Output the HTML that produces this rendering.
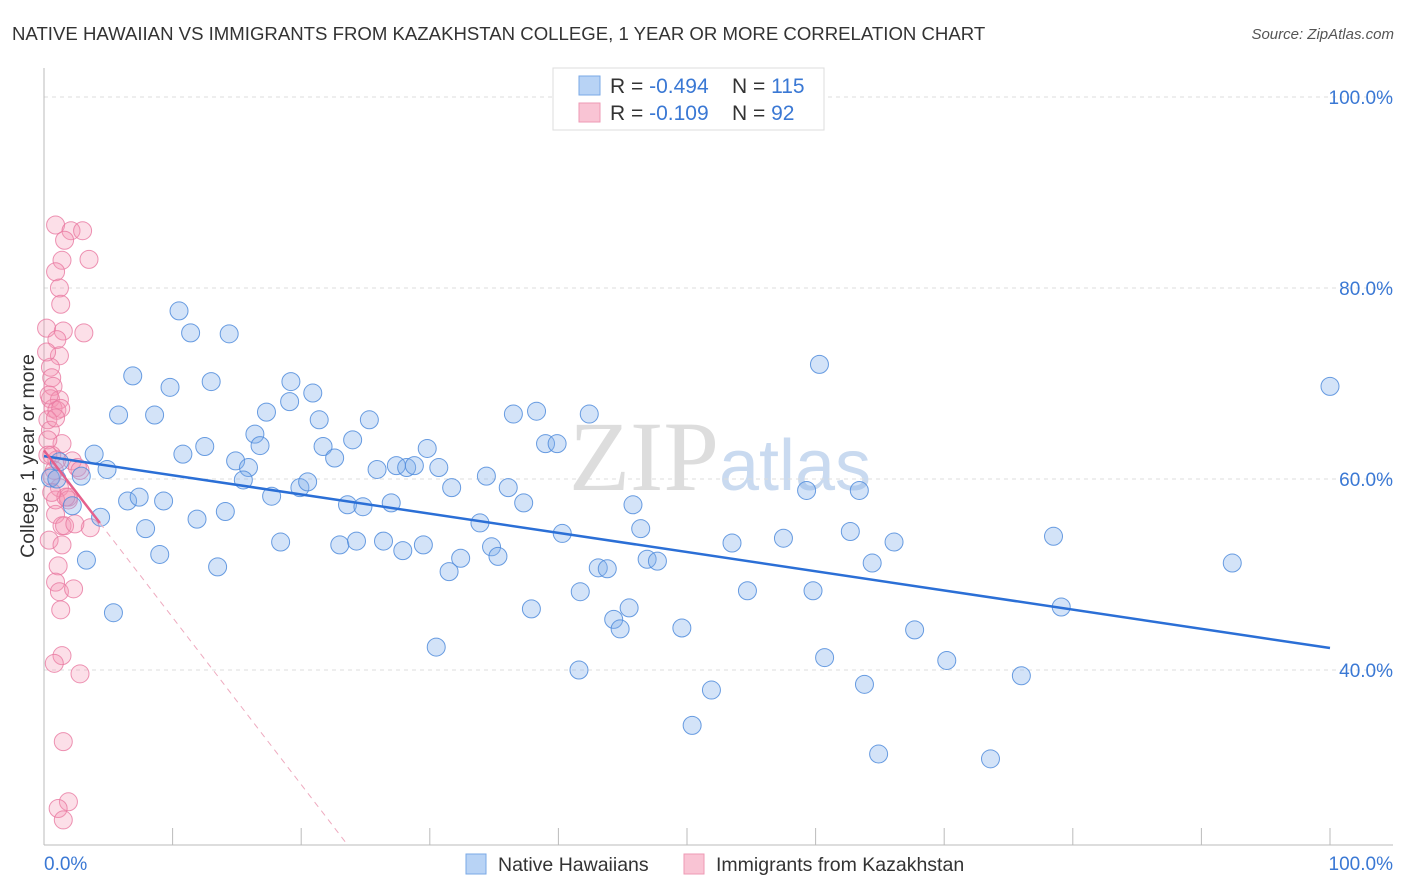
<!DOCTYPE html>
<html><head><meta charset="utf-8">
<style>
body{margin:0;background:#fff;font-family:"Liberation Sans",sans-serif;}
svg{display:block}
</style></head>
<body>
<svg id="chart" width="1406" height="892" xmlns="http://www.w3.org/2000/svg">
<text x="12" y="40" font-size="18.6" fill="#333">NATIVE HAWAIIAN VS IMMIGRANTS FROM KAZAKHSTAN COLLEGE, 1 YEAR OR MORE CORRELATION CHART</text>
<text x="1394" y="39" font-size="15" fill="#555" text-anchor="end" font-style="italic">Source: ZipAtlas.com</text>
<text x="720" y="490" font-size="100" fill="#ddd" text-anchor="middle" font-family="Liberation Serif,serif">ZIP<tspan fill="#c9daf0" font-family="Liberation Sans,sans-serif" font-size="72">atlas</tspan></text>
<g id="grid"></g>
<g id="axes"></g>
<g id="pink"></g>
<g id="blue"></g>
<g id="trends"></g>
<text transform="translate(34,456) rotate(-90)" font-size="19.5" fill="#333" text-anchor="middle">College, 1 year or more</text>
<g>
<rect x="553" y="68" width="271" height="62" fill="#fff" stroke="#ddd"/>
<rect x="579" y="76" width="21" height="19" fill="#b8d3f5" stroke="#7aa8e6"/>
<rect x="579" y="103" width="21" height="19" fill="#f9c4d4" stroke="#ee9ab4"/>
<text x="610" y="93" font-size="21" fill="#333">R = <tspan fill="#3a78d4">-0.494</tspan><tspan x="732">N = </tspan><tspan fill="#3a78d4">115</tspan></text>
<text x="610" y="120" font-size="21" fill="#333">R = <tspan fill="#3a78d4"> -0.109</tspan><tspan x="732">N = </tspan><tspan fill="#3a78d4"> 92</tspan></text>
</g>
<g>
<rect x="466" y="854" width="20" height="20" fill="#b8d3f5" stroke="#7aa8e6"/>
<text x="498" y="871" font-size="19.5" fill="#333">Native Hawaiians</text>
<rect x="684" y="854" width="20" height="20" fill="#f9c4d4" stroke="#ee9ab4"/>
<text x="716" y="871" font-size="19.5" fill="#333">Immigrants from Kazakhstan</text>
</g>
</svg>
<script>
const blueX=[10.5,11.4,14.4,6.9,9.8,13.0,5.8,8.6,19.2,20.9,19.1,17.3,25.3,3.9,4.9,10.8,12.5,14.9,15.9,16.4,16.8,15.5,17.7,19.9,20.5,21.4,21.7,22.6,24.0,25.9,27.4,28.2,28.8,29.8,30.7,31.7,34.4,36.1,36.5,38.3,39.0,39.9,42.4,37.3,23.6,24.8,27.0,6.5,7.4,9.3,4.4,7.9,11.9,14.1,9.0,3.3,13.5,5.4,18.4,23.0,24.3,26.4,27.9,29.5,31.5,32.4,33.9,34.8,35.3,40.3,45.8,46.4,46.9,47.7,53.5,57.5,59.3,60.3,62.7,63.4,64.4,66.1,78.5,92.4,100.0,43.1,43.8,41.7,37.9,44.3,44.8,45.5,49.6,54.7,59.8,79.1,67.7,30.5,41.6,60.7,70.2,76.0,51.9,63.8,50.4,64.9,73.6,0.5,1.0,2.9,2.2,1.2];
const blueY=[77.6,75.3,75.2,70.8,69.6,70.2,66.7,66.7,70.2,69.0,68.1,67.0,66.2,62.6,61.0,62.6,63.4,61.9,61.2,64.7,63.5,59.9,58.2,59.1,59.7,66.2,63.4,62.2,64.1,61.0,61.4,61.2,61.4,63.2,61.2,59.1,60.3,59.1,66.8,67.1,63.7,63.7,66.8,57.5,57.3,57.1,57.5,57.7,58.1,57.7,56.0,54.8,55.8,56.6,52.1,51.5,50.8,46.0,53.4,53.1,53.5,53.5,52.5,53.1,50.3,51.7,55.4,52.9,51.9,54.3,57.3,54.8,51.6,51.4,53.3,53.8,58.8,72.0,54.5,58.8,51.2,53.4,54.0,51.2,69.7,50.7,50.6,48.2,46.4,45.3,44.3,46.5,44.4,48.3,48.3,46.6,44.2,42.4,40.0,41.3,41.0,39.4,37.9,38.5,34.2,31.2,30.7,60.1,60.0,60.3,57.2,61.8];
const pinkX=[0.9,2.1,3.0,3.5,1.6,1.4,0.9,1.2,1.3,0.2,1.5,3.1,1.0,1.2,0.5,0.6,0.7,0.5,1.2,0.7,1.0,1.3,0.3,0.5,1.4,0.3,0.6,1.0,2.2,2.6,0.8,1.2,1.9,1.9,0.9,1.4,3.6,1.6,0.4,1.4,1.1,0.9,1.2,2.3,1.3,1.4,0.8,2.8,1.5,1.9,1.1,1.5,0.3,0.6,0.9,1.7,2.4,0.6,2.8,0.2,0.4,0.9];
const pinkY=[86.6,86.0,86.0,83.0,85.0,82.9,81.7,80.0,78.3,75.8,75.5,75.3,74.6,72.9,71.7,70.6,69.7,68.4,68.3,67.4,67.2,67.4,66.2,65.1,63.7,64.1,62.5,62.0,61.9,61.2,60.9,59.1,58.1,57.8,56.3,55.1,54.9,55.1,53.6,53.1,50.9,49.2,48.2,48.5,46.3,41.5,40.7,39.6,32.5,26.2,25.5,24.3,62.5,60.3,57.8,58.1,55.3,58.6,60.9,73.3,68.8,66.4];
const trendIntercept=[62.4,63.0];
const trendSlope=[-0.201,-1.75];
const yTicks=[40,60,80,100];
const xTicks=[0,10,20,30,40,50,60,70,80,90,100];

const NS="http://www.w3.org/2000/svg";
const X=v=>44+v*12.86, Y=v=>1052-v*9.55;
function mk(tag,attrs,parent){const e=document.createElementNS(NS,tag);for(const k in attrs)e.setAttribute(k,attrs[k]);parent.appendChild(e);return e;}
const grid=document.getElementById('grid'),axes=document.getElementById('axes');
yTicks.forEach(t=>{
  const l=mk('line',{x1:44,x2:1393,y1:Y(t),y2:Y(t),stroke:'#ddd','stroke-dasharray':'4,4'},grid);
  
  
  const tx=mk('text',{x:1393,y:Y(t)+7,'font-size':19,fill:'#3a78d4','text-anchor':'end'},axes);
  tx.textContent=t+'.0%';
  
  
});
mk('line',{x1:44,x2:44,y1:68,y2:845,stroke:'#bbb'},axes);
mk('line',{x1:44,x2:1393,y1:845,y2:845,stroke:'#bbb'},axes);
xTicks.forEach(t=>{
  const l=mk('line',{x1:X(t),x2:X(t),y1:828,y2:845,stroke:'#bbb'},axes);
  
  
});
[[0,'0.0%','start',44],[100,'100.0%','end',1393]].forEach(a=>{
  const tx=mk('text',{x:a[3],y:870,'font-size':19,fill:'#3a78d4','text-anchor':a[2]},axes);
  tx.textContent=a[1];
  
  
});
const pg=document.getElementById('pink'),bg=document.getElementById('blue');
pinkX.forEach((v,i)=>{
  const c=mk('circle',{cx:X(v),cy:Y(pinkY[i]),r:9,fill:'rgba(244,150,180,0.3)',stroke:'rgba(232,120,160,0.8)','stroke-width':1},pg);
  
  
});
blueX.forEach((v,i)=>{
  const c=mk('circle',{cx:X(v),cy:Y(blueY[i]),r:9,fill:'rgba(130,175,235,0.35)',stroke:'rgba(80,140,220,0.85)','stroke-width':1},bg);
  
  
});
const tg=document.getElementById('trends');
let l=mk('line',{x1:X(0),y1:Y(trendIntercept[0]),x2:X(100),y2:Y(trendIntercept[0]+trendSlope[0]*100),stroke:'#2b6fd6','stroke-width':2.5},tg);


l=mk('line',{x1:X(0),y1:Y(trendIntercept[1]),x2:X(4.35),y2:Y(trendIntercept[1]+trendSlope[1]*4.35),stroke:'#e5608c','stroke-width':2.5},tg);


const xEnd=(trendIntercept[1]-21.7)/(-trendSlope[1]);
l=mk('line',{x1:X(4.35),y1:Y(trendIntercept[1]+trendSlope[1]*4.35),x2:X(xEnd),y2:Y(trendIntercept[1]+trendSlope[1]*xEnd),stroke:'#eeaabf','stroke-width':1,'stroke-dasharray':'6,5'},tg);


</script>
</body></html>
